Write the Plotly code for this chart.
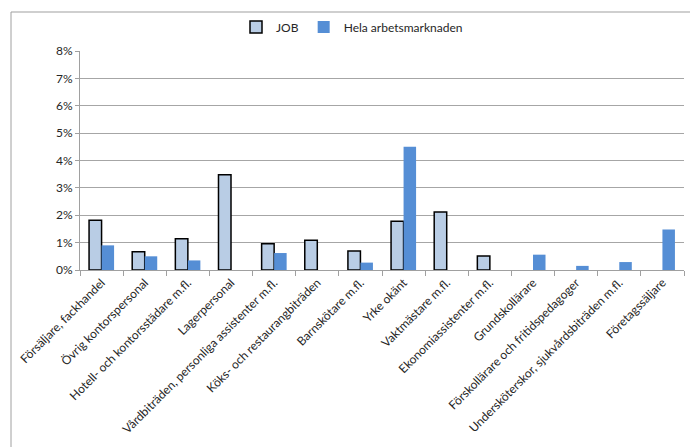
import plotly.graph_objects as go

categories = [
    "Försäljare, fackhandel",
    "Övrig kontorspersonal",
    "Hotell- och kontorsstädare m.fl.",
    "Lagerpersonal",
    "Vårdbiträden, personliga assistenter m.fl.",
    "Köks- och restaurangbiträden",
    "Barnskötare m.fl.",
    "Yrke okänt",
    "Vaktmästare m.fl.",
    "Ekonomiassistenter m.fl.",
    "Grundskollärare",
    "Förskollärare och fritidspedagoger",
    "Undersköterskor, sjukvårdsbiträden m.fl.",
    "Företagssäljare",
]
job = [0.0182, 0.0067, 0.0114, 0.0348, 0.0096, 0.0109, 0.0069, 0.0178, 0.0212, 0.0051, 0, 0, 0, 0]
hela = [0.0090, 0.0050, 0.0035, 0, 0.0062, 0, 0.0027, 0.0450, 0, 0, 0.0056, 0.0015, 0.0029, 0.0148]
y_ticks = [0, 0.01, 0.02, 0.03, 0.04, 0.05, 0.06, 0.07, 0.08]

FONT = "Lato"
TXT = "#262626"

def nz(vals):
    return [v if v != 0 else None for v in vals]

fig = go.Figure()
fig.add_trace(go.Bar(
    name="JOB", x=categories, y=nz(job),
    marker=dict(color="#b9cde5", line=dict(color="#000000", width=1.5)),
))
fig.add_trace(go.Bar(
    name="Hela arbetsmarknaden", x=categories, y=nz(hela),
    marker=dict(color="#558ed5", line=dict(width=0)),
))

W, H = 690, 447
L, R, T, B = 80, 6, 51, 177
pw, ph = W - L - R, H - T - B

def px(x):
    return (x - L) / pw

def py(y):
    return (H - B - y) / ph

fig.update_layout(
    width=W, height=H,
    margin=dict(l=L, r=R, t=T, b=B),
    paper_bgcolor="white", plot_bgcolor="white",
    barmode="group", bargap=0.42, bargroupgap=0,
    font=dict(family=FONT, size=12, color=TXT),
    showlegend=True,
    legend=dict(orientation="h", x=px(352), y=py(27), xanchor="center", yanchor="middle",
                font=dict(family=FONT, size=12, color=TXT),
                itemwidth=30, traceorder="normal"),
    xaxis=dict(
        type="category", tickangle=-45, ticks="outside", tickson="boundaries",
        ticklen=5, tickcolor="#a0a0a0", showline=True, linecolor="#a0a0a0",
        linewidth=1, showgrid=False, tickfont=dict(family=FONT, size=12, color=TXT),
    ),
    yaxis=dict(
        range=[0, 0.08], tickvals=y_ticks, tickformat=".0%",
        showgrid=True, gridcolor="#a6a6a6", gridwidth=1,
        showline=True, linecolor="#a0a0a0", linewidth=1,
        ticks="outside", ticklen=4, tickcolor="#a0a0a0",
        tickfont=dict(family=FONT, size=12, color=TXT),
        zeroline=False,
    ),
    shapes=[
        dict(type="line", xref="paper", yref="paper", x0=px(11), x1=px(700), y0=py(12), y1=py(12),
             line=dict(color="#bfbfbf", width=1.5)),
        dict(type="line", xref="paper", yref="paper", x0=px(11), x1=px(11), y0=py(12), y1=py(460),
             line=dict(color="#a0a0a0", width=1)),
    ],
)

fig.write_html("out.html")
